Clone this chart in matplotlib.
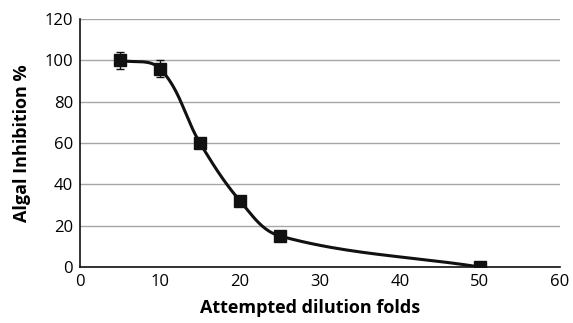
import matplotlib
matplotlib.use("Agg")
import matplotlib.pyplot as plt
import numpy as np

plt.rcParams['font.family'] = ['Open Sans', 'DejaVu Sans']

# data
dilution = [5, 10, 15, 20, 25, 50]
inhibition = [100, 96, 60, 32, 15, 0]
err = [4, 4, 0, 0, 0, 0]


def smooth_curve(ax, x, y, n=40, k=0.35):
    # smoothed line through the points, built in screen space (like Excel)
    pts = ax.transData.transform(np.column_stack([x, y]))
    m = len(pts)
    out = []
    t = np.linspace(0, 1, n)[:, None]
    for i in range(m - 1):
        p1, p2 = pts[i], pts[i + 1]
        p0 = pts[i - 1] if i > 0 else p1
        p3 = pts[i + 2] if i + 2 < m else p2
        seg = np.linalg.norm(p2 - p1)
        d1 = p2 - p0
        d2 = p3 - p1
        c1 = p1 + d1 / np.linalg.norm(d1) * seg * k
        c2 = p2 - d2 / np.linalg.norm(d2) * seg * k
        b = (1 - t) ** 3 * p1 + 3 * (1 - t) ** 2 * t * c1 + 3 * (1 - t) * t ** 2 * c2 + t ** 3 * p2
        out.append(b)
    out = np.vstack(out)
    data = ax.transData.inverted().transform(out)
    return data[:, 0], data[:, 1]


fig = plt.figure(figsize=(5.73, 3.23), dpi=100)
ax = fig.add_axes([0.1396, 0.1734, 0.8377, 0.7676])
ax.set_xlim(0, 60)
ax.set_ylim(0, 120)

sx, sy = smooth_curve(ax, dilution, inhibition)
ax.plot(sx, sy, color='#111111', lw=2.2, zorder=3)
ax.plot(dilution, inhibition, 's', color='#111111', markersize=8.5, zorder=4)
ax.errorbar(dilution, inhibition, yerr=err, fmt='none', ecolor='#111111',
            elinewidth=1, capsize=3, zorder=5)

ax.set_xticks(range(0, 61, 10))
ax.set_yticks(range(0, 121, 20))
ax.yaxis.grid(True, color='#a6a6a6', lw=1)
ax.set_axisbelow(True)
ax.tick_params(length=0, labelsize=12, pad=5)

for s in ['top', 'right']:
    ax.spines[s].set_visible(False)
for s in ['left', 'bottom']:
    ax.spines[s].set_color('#111111')
    ax.spines[s].set_linewidth(1.2)

ax.set_xlabel('Attempted dilution folds', fontsize=13, fontweight='bold', labelpad=6)
ax.xaxis.set_label_coords(0.48, -0.13)
ax.set_ylabel('Algal Inhibition %', fontsize=13, fontweight='bold', labelpad=10)

fig.savefig('out.png', dpi=100)
